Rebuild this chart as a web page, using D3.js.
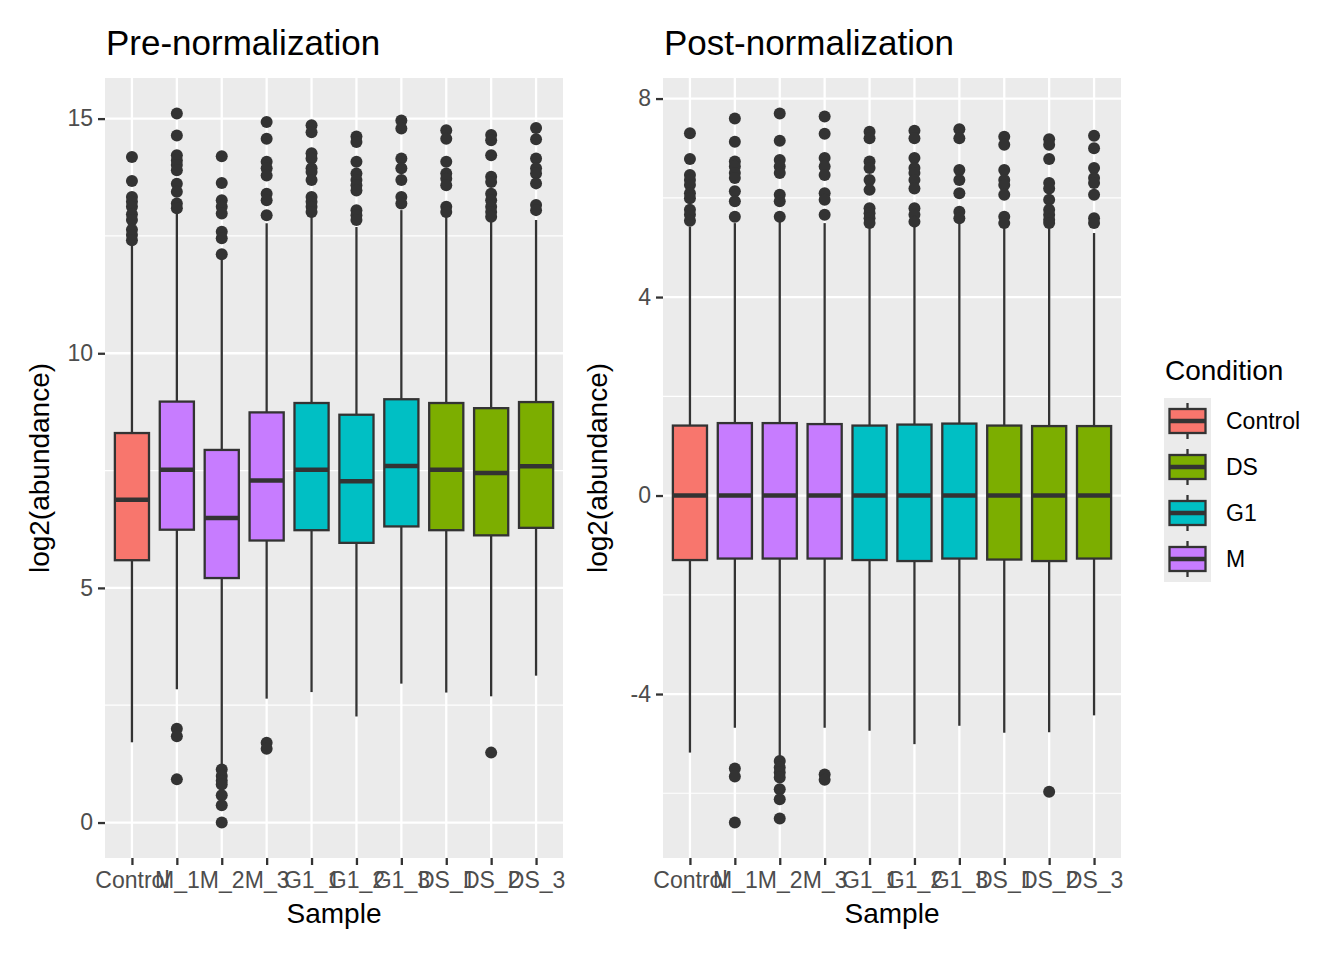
<!DOCTYPE html>
<html>
<head>
<meta charset="utf-8">
<script src="https://cdn.jsdelivr.net/npm/d3@7"></script>
<style>
  body { margin: 0; background: #fff; }
  text { font-family: "Liberation Sans", Arial, sans-serif; }
</style>
</head>
<body>
<script>
// samples and their condition
const samples = ["Control", "M_1", "M_2", "M_3", "G1_1", "G1_2", "G1_3", "DS_1", "DS_2", "DS_3"];
const sampleCondition = ["Control", "M", "M", "M", "G1", "G1", "G1", "DS", "DS", "DS"];
const conditions = ["Control", "DS", "G1", "M"];
const conditionColors = ["#F8766D", "#7CAE00", "#00BFC4", "#C77CFF"];

// pre-normalization box stats
const preLower  = [1.71, 2.84, 1.20, 2.64, 2.78, 2.26, 2.96, 2.77, 2.69, 3.13];
const preQ1     = [5.59, 6.24, 5.21, 6.01, 6.23, 5.96, 6.31, 6.23, 6.12, 6.28];
const preMedian = [6.88, 7.52, 6.49, 7.29, 7.52, 7.27, 7.60, 7.52, 7.45, 7.59];
const preQ3     = [8.30, 8.97, 7.94, 8.74, 8.94, 8.69, 9.02, 8.94, 8.83, 8.96];
const preUpper  = [12.30, 12.98, 11.99, 12.77, 12.91, 12.69, 13.05, 12.91, 12.84, 12.84];
const preOutliers = [
  [14.18, 13.67, 13.33, 13.23, 13.12, 12.96, 12.84, 12.63, 12.52, 12.41],
  [15.11, 14.64, 14.22, 14.11, 14.01, 13.90, 13.61, 13.44, 13.19, 13.09, 2.00, 1.84, 0.92],
  [14.20, 13.63, 13.26, 13.12, 12.98, 12.59, 12.45, 12.11, 1.13, 0.99, 0.89, 0.81, 0.58, 0.37, 0.0],
  [14.93, 14.57, 14.08, 13.94, 13.79, 13.40, 13.26, 12.94, 1.70, 1.57],
  [14.86, 14.71, 14.26, 14.15, 13.94, 13.86, 13.69, 13.33, 13.23, 13.12, 13.01],
  [14.62, 14.50, 14.08, 13.83, 13.69, 13.58, 13.47, 13.05, 12.94, 12.84],
  [14.96, 14.79, 14.15, 13.94, 13.69, 13.33, 13.19],
  [14.75, 14.57, 14.08, 13.83, 13.72, 13.58, 13.12, 13.01],
  [14.65, 14.54, 14.22, 13.76, 13.65, 13.40, 13.26, 13.12, 13.01, 12.91, 1.49],
  [14.80, 14.56, 14.15, 13.94, 13.83, 13.62, 13.16, 13.05]
];

// post-normalization box stats
const postLower  = [-5.18, -4.68, -5.28, -4.68, -4.74, -5.01, -4.64, -4.78, -4.77, -4.43];
const postQ1     = [-1.30, -1.27, -1.27, -1.27, -1.30, -1.32, -1.27, -1.29, -1.32, -1.27];
const postMedian = [0, 0, 0, 0, 0, 0, 0, 0, 0, 0];
const postQ3     = [1.41, 1.46, 1.46, 1.44, 1.41, 1.43, 1.45, 1.41, 1.40, 1.40];
const postUpper  = [5.42, 5.49, 5.52, 5.49, 5.39, 5.42, 5.49, 5.39, 5.39, 5.29];
const postOutliers = [
  [7.30, 6.78, 6.46, 6.36, 6.26, 6.09, 5.99, 5.76, 5.66, 5.54],
  [7.60, 7.13, 6.73, 6.63, 6.50, 6.40, 6.13, 5.93, 5.62, -5.50, -5.66, -6.59],
  [7.70, 7.15, 6.76, 6.63, 6.50, 6.06, 5.93, 5.62, -5.35, -5.48, -5.58, -5.68, -5.92, -6.12, -6.51],
  [7.64, 7.29, 6.80, 6.63, 6.46, 6.09, 5.96, 5.66, -5.62, -5.73],
  [7.33, 7.20, 6.73, 6.60, 6.36, 6.16, 5.79, 5.69, 5.59, 5.49],
  [7.35, 7.20, 6.80, 6.60, 6.50, 6.36, 6.19, 5.79, 5.66, 5.52],
  [7.38, 7.20, 6.56, 6.36, 6.09, 5.72, 5.59],
  [7.23, 7.07, 6.56, 6.36, 6.26, 6.06, 5.62, 5.49],
  [7.18, 7.07, 6.78, 6.30, 6.19, 5.96, 5.76, 5.66, 5.56, 5.49, -5.97],
  [7.25, 7.00, 6.60, 6.40, 6.30, 6.06, 5.59, 5.49]
];

const preTicks = [0, 5, 10, 15];
const preMinor = [2.5, 7.5, 12.5];
const postTicks = [-4, 0, 4, 8];
const postMinor = [-6, -2, 2, 6];

const W = 1344, H = 960;
const svg = d3.select("body").append("svg").attr("width", W).attr("height", H);

const color = d3.scaleOrdinal().domain(conditions).range(conditionColors);
const ink = "#333333";

function drawPanel(p) {
  const g = svg.append("g");
  const left = p.left, right = p.right, top = 78, bottom = 858;

  const allVals = d3.merge([p.lower, p.upper, d3.merge(p.outliers)]);
  const lo = d3.min(allVals), hi = d3.max(allVals), pad = (hi - lo) * 0.05;
  const y = d3.scaleLinear().domain([lo - pad, hi + pad]).range([bottom, top]);
  const x = d3.scalePoint().domain(samples).range([left, right]).padding(0.6);
  const bw = x.step() * 0.76;

  // panel background + grid
  g.append("rect").attr("x", left).attr("y", top).attr("width", right - left).attr("height", bottom - top).attr("fill", "#EBEBEB");
  g.selectAll(".minor").data(p.minor).join("line")
    .attr("x1", left).attr("x2", right).attr("y1", d => y(d)).attr("y2", d => y(d))
    .attr("stroke", "#fff").attr("stroke-width", 1.2);
  g.selectAll(".major").data(p.ticks).join("line")
    .attr("x1", left).attr("x2", right).attr("y1", d => y(d)).attr("y2", d => y(d))
    .attr("stroke", "#fff").attr("stroke-width", 2.3);
  g.selectAll(".vgrid").data(samples).join("line")
    .attr("x1", d => x(d)).attr("x2", d => x(d)).attr("y1", top).attr("y2", bottom)
    .attr("stroke", "#fff").attr("stroke-width", 2.3);

  // boxes
  samples.forEach((s, i) => {
    const cx = x(s);
    const b = g.append("g");
    b.append("line").attr("x1", cx).attr("x2", cx).attr("y1", y(p.q3[i])).attr("y2", y(p.upper[i]))
      .attr("stroke", ink).attr("stroke-width", 2.3);
    b.append("line").attr("x1", cx).attr("x2", cx).attr("y1", y(p.q1[i])).attr("y2", y(p.lower[i]))
      .attr("stroke", ink).attr("stroke-width", 2.3);
    b.append("rect").attr("x", cx - bw / 2).attr("width", bw)
      .attr("y", y(p.q3[i])).attr("height", y(p.q1[i]) - y(p.q3[i]))
      .attr("fill", color(sampleCondition[i])).attr("stroke", ink).attr("stroke-width", 2.3);
    b.append("line").attr("x1", cx - bw / 2).attr("x2", cx + bw / 2)
      .attr("y1", y(p.median[i])).attr("y2", y(p.median[i]))
      .attr("stroke", ink).attr("stroke-width", 4.5);
    b.selectAll("circle").data(p.outliers[i]).join("circle")
      .attr("cx", cx).attr("cy", d => y(d)).attr("r", 6).attr("fill", ink);
  });

  // y axis (plain hyphen for negatives, like R)
  const ya = g.append("g").attr("transform", "translate(" + left + ",0)")
    .call(d3.axisLeft(y).tickValues(p.ticks).tickSize(7).tickPadding(5).tickFormat(d => String(d)));
  ya.select(".domain").remove();
  ya.selectAll(".tick line").attr("stroke", ink).attr("stroke-width", 2.3);
  ya.selectAll(".tick text").attr("fill", "#4D4D4D").style("font-size", "23px").style("font-family", "Liberation Sans, Arial, sans-serif");

  // x axis
  const xa = g.append("g").attr("transform", "translate(0," + bottom + ")")
    .call(d3.axisBottom(x).tickSize(7).tickPadding(7));
  xa.select(".domain").remove();
  xa.selectAll(".tick line").attr("stroke", ink).attr("stroke-width", 2.3);
  xa.selectAll(".tick text").attr("fill", "#4D4D4D").style("font-size", "23px").style("font-family", "Liberation Sans, Arial, sans-serif");

  // titles
  g.append("text").attr("x", left + 1).attr("y", 55).text(p.title)
    .style("font-size", "35px").attr("fill", "#000");
  g.append("text").attr("x", (left + right) / 2).attr("y", 923).attr("text-anchor", "middle")
    .text("Sample").style("font-size", "28px").attr("fill", "#000");
  g.append("text").attr("transform", "translate(" + (left - 56) + "," + ((top + bottom) / 2) + ") rotate(-90)")
    .attr("text-anchor", "middle").text("log2(abundance)").style("font-size", "28px").attr("fill", "#000");
}

drawPanel({
  title: "Pre-normalization", left: 105, right: 563,
  lower: preLower, q1: preQ1, median: preMedian, q3: preQ3, upper: preUpper, outliers: preOutliers,
  ticks: preTicks, minor: preMinor
});
drawPanel({
  title: "Post-normalization", left: 663, right: 1121,
  lower: postLower, q1: postQ1, median: postMedian, q3: postQ3, upper: postUpper, outliers: postOutliers,
  ticks: postTicks, minor: postMinor
});

// legend
const lg = svg.append("g").attr("transform", "translate(1164,0)");
lg.append("text").attr("x", 1).attr("y", 380).text("Condition").style("font-size", "28px").attr("fill", "#000");
const keyH = 46, key0 = 398;
conditions.forEach((c, i) => {
  const ky = key0 + i * keyH;
  lg.append("rect").attr("x", 0).attr("y", ky).attr("width", 47).attr("height", keyH).attr("fill", "#EBEBEB");
  const mid = ky + keyH / 2;
  lg.append("line").attr("x1", 23.5).attr("x2", 23.5).attr("y1", mid - 18).attr("y2", mid + 18)
    .attr("stroke", ink).attr("stroke-width", 2.3);
  lg.append("rect").attr("x", 5.5).attr("y", mid - 12).attr("width", 36).attr("height", 24)
    .attr("fill", color(c)).attr("stroke", ink).attr("stroke-width", 2.3);
  lg.append("line").attr("x1", 5.5).attr("x2", 41.5).attr("y1", mid).attr("y2", mid)
    .attr("stroke", ink).attr("stroke-width", 4.5);
  lg.append("text").attr("x", 62).attr("y", mid + 8).text(c).style("font-size", "23px").attr("fill", "#000");
});
</script>
</body>
</html>
